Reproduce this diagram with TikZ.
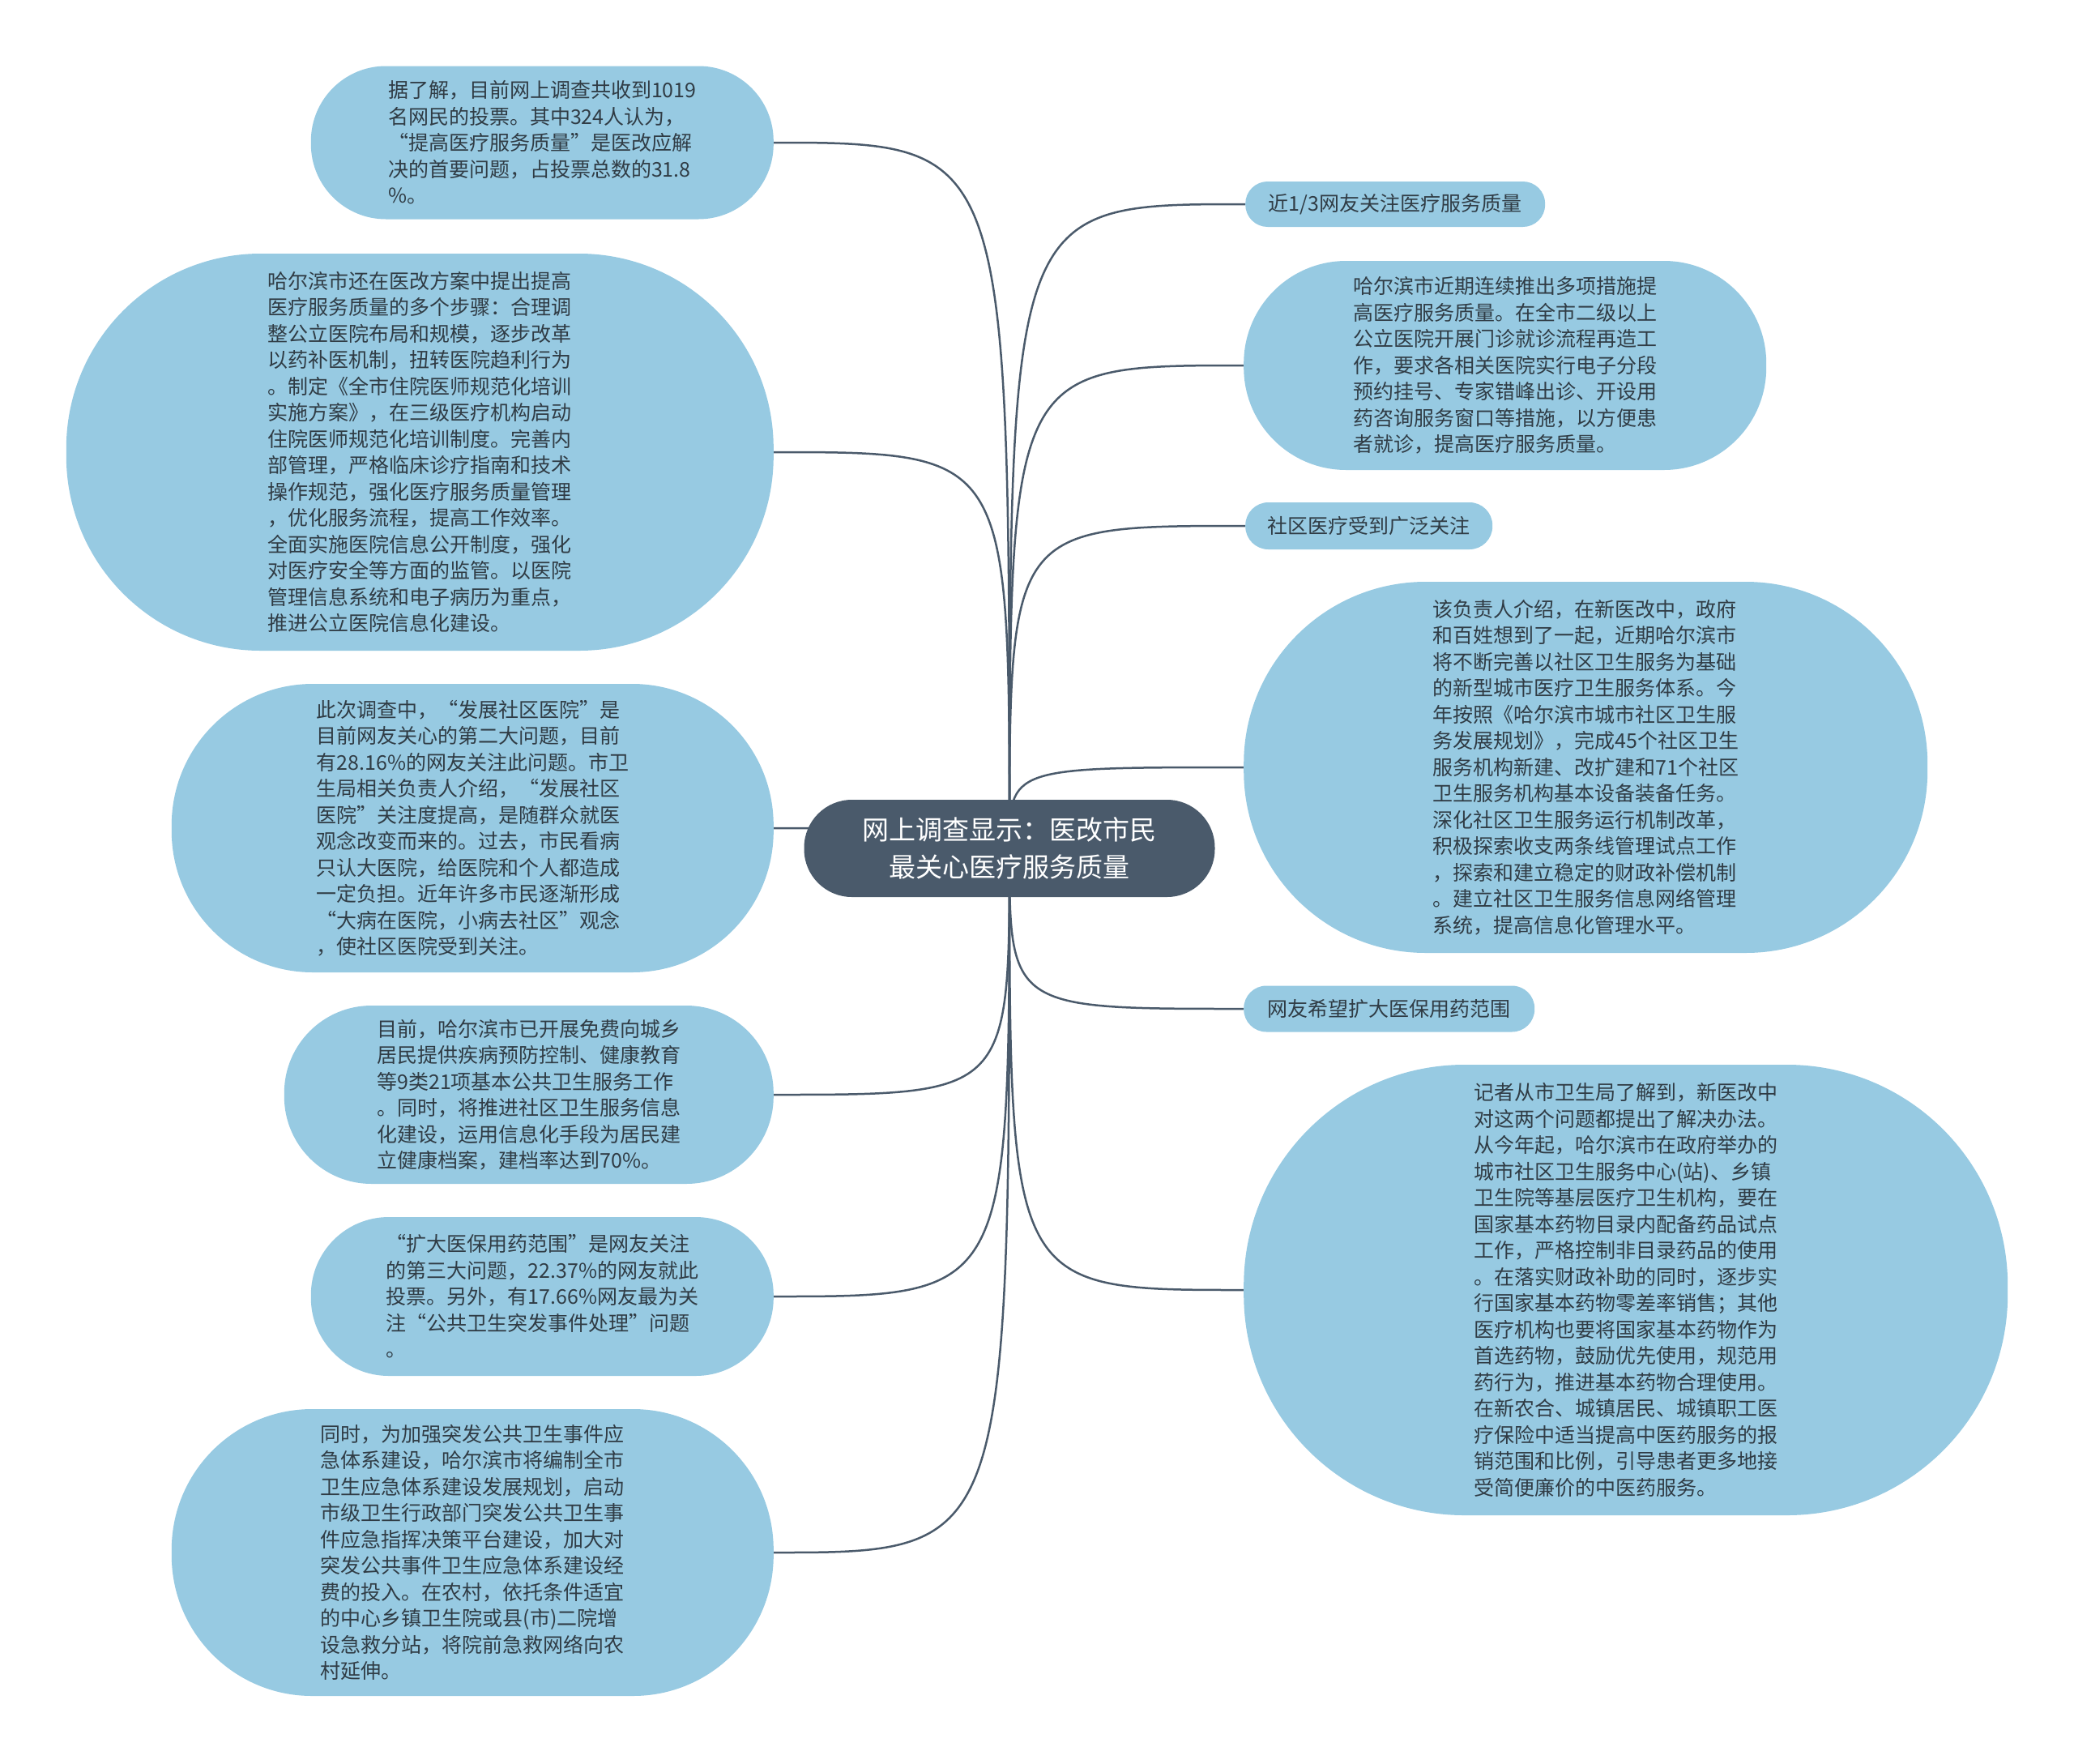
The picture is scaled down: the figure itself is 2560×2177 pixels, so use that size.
\documentclass[tikz,border=0pt]{standalone}
\usepackage{fontspec}
\setmainfont{Noto Sans CJK SC}
\usetikzlibrary{backgrounds}
\definecolor{leafblue}{HTML}{97CAE2}
\definecolor{topicgray}{HTML}{4A5A6B}
\definecolor{inktext}{HTML}{303C45}
\tikzset{
    topic/.style={fill=topicgray, text=white, align=center, inner sep=0pt,
        font=\fontsize{33pt}{46pt}\selectfont, minimum width=507pt,
        minimum height=120pt, rounded corners=59pt},
    leaf/.style={fill=leafblue, text=inktext, align=left, inner sep=0pt,
        font=\fontsize{25pt}{32.5pt}\selectfont},
    size/.style 2 args={minimum width=#1pt, minimum height=#2pt,
        rounded corners=0.49*#2pt},
    link/.style={draw=topicgray, line width=2.5pt},
}

\begin{document}
\begin{tikzpicture}[x=1pt, y=-1pt]
        \useasboundingbox (0,0) rectangle (2560,2177);

        % Zentrum
        \node[topic] (ctr) at (1246,1047) {网上调查显示：医改市民\\最关心医疗服务质量};

        % linke Seite
        \node[leaf, size={571}{189}, anchor=east] (n1) at (955,176) {据了解，目前网上调查共收到1019\\
            名网民的投票。其中324人认为，\\
            “提高医疗服务质量”是医改应解\\
            决的首要问题，占投票总数的31.8\\
            \%。};

        \node[leaf, size={873}{490}, anchor=east] (n2) at (955,558) {哈尔滨市还在医改方案中提出提高\\
            医疗服务质量的多个步骤：合理调\\
            整公立医院布局和规模，逐步改革\\
            以药补医机制，扭转医院趋利行为\\
            。制定《全市住院医师规范化培训\\
            实施方案》，在三级医疗机构启动\\
            住院医师规范化培训制度。完善内\\
            部管理，严格临床诊疗指南和技术\\
            操作规范，强化医疗服务质量管理\\
            ，优化服务流程，提高工作效率。\\
            全面实施医院信息公开制度，强化\\
            对医疗安全等方面的监管。以医院\\
            管理信息系统和电子病历为重点，\\
            推进公立医院信息化建设。};

        \node[leaf, size={743}{356}, anchor=east] (n3) at (955,1022) {此次调查中，“发展社区医院”是\\
            目前网友关心的第二大问题，目前\\
            有28.16\%的网友关注此问题。市卫\\
            生局相关负责人介绍，“发展社区\\
            医院”关注度提高，是随群众就医\\
            观念改变而来的。过去，市民看病\\
            只认大医院，给医院和个人都造成\\
            一定负担。近年许多市民逐渐形成\\
            “大病在医院，小病去社区”观念\\
            ，使社区医院受到关注。};

        \node[leaf, size={604}{220}, anchor=east] (n4) at (955,1351) {目前，哈尔滨市已开展免费向城乡\\
            居民提供疾病预防控制、健康教育\\
            等9类21项基本公共卫生服务工作\\
            。同时，将推进社区卫生服务信息\\
            化建设，运用信息化手段为居民建\\
            立健康档案，建档率达到70\%。};

        \node[leaf, size={571}{196}, anchor=east] (n5) at (955,1600) {“扩大医保用药范围”是网友关注\\
            的第三大问题，22.37\%的网友就此\\
            投票。另外，有17.66\%网友最为关\\
            注“公共卫生突发事件处理”问题\\
            。};

        \node[leaf, size={743}{354}, anchor=east] (n6) at (955,1916) {同时，为加强突发公共卫生事件应\\
            急体系建设，哈尔滨市将编制全市\\
            卫生应急体系建设发展规划，启动\\
            市级卫生行政部门突发公共卫生事\\
            件应急指挥决策平台建设，加大对\\
            突发公共事件卫生应急体系建设经\\
            费的投入。在农村，依托条件适宜\\
            的中心乡镇卫生院或县(市)二院增\\
            设急救分站，将院前急救网络向农\\
            村延伸。};

        % rechte Seite
        \node[leaf, size={370}{56}, anchor=west] (n7) at (1537,252) {近1/3网友关注医疗服务质量};

        \node[leaf, size={645}{258}, anchor=west] (n8) at (1535,451) {哈尔滨市近期连续推出多项措施提\\
            高医疗服务质量。在全市二级以上\\
            公立医院开展门诊就诊流程再造工\\
            作，要求各相关医院实行电子分段\\
            预约挂号、专家错峰出诊、开设用\\
            药咨询服务窗口等措施，以方便患\\
            者就诊，提高医疗服务质量。};

        \node[leaf, size={305}{58}, anchor=west] (n9) at (1537,649) {社区医疗受到广泛关注};

        \node[leaf, size={844}{458}, anchor=west] (n10) at (1535,947) {该负责人介绍，在新医改中，政府\\
            和百姓想到了一起，近期哈尔滨市\\
            将不断完善以社区卫生服务为基础\\
            的新型城市医疗卫生服务体系。今\\
            年按照《哈尔滨市城市社区卫生服\\
            务发展规划》，完成45个社区卫生\\
            服务机构新建、改扩建和71个社区\\
            卫生服务机构基本设备装备任务。\\
            深化社区卫生服务运行机制改革，\\
            积极探索收支两条线管理试点工作\\
            ，探索和建立稳定的财政补偿机制\\
            。建立社区卫生服务信息网络管理\\
            系统，提高信息化管理水平。};

        \node[leaf, size={359}{57}, anchor=west] (n11) at (1535,1245) {网友希望扩大医保用药范围};

        \node[leaf, size={943}{556}, anchor=west] (n12) at (1535,1592) {记者从市卫生局了解到，新医改中\\
            对这两个问题都提出了解决办法。\\
            从今年起，哈尔滨市在政府举办的\\
            城市社区卫生服务中心(站)、乡镇\\
            卫生院等基层医疗卫生机构，要在\\
            国家基本药物目录内配备药品试点\\
            工作，严格控制非目录药品的使用\\
            。在落实财政补助的同时，逐步实\\
            行国家基本药物零差率销售；其他\\
            医疗机构也要将国家基本药物作为\\
            首选药物，鼓励优先使用，规范用\\
            药行为，推进基本药物合理使用。\\
            在新农合、城镇居民、城镇职工医\\
            疗保险中适当提高中医药服务的报\\
            销范围和比例，引导患者更多地接\\
            受简便廉价的中医药服务。};

        % Verbindungen
        \begin{scope}[on background layer]
            \fill[white] (0,0) rectangle (2560,2177);
            \foreach \n in {n1,n2,n3,n4,n5,n6} {
                \draw[link] (ctr.center) .. controls (ctr.center |- \n.east) .. (\n.east);
            }
            \foreach \n in {n7,n8,n9,n10,n11,n12} {
                \draw[link] (ctr.center) .. controls (ctr.center |- \n.west) .. (\n.west);
            }
        \end{scope}
    \end{tikzpicture}
\end{document}
